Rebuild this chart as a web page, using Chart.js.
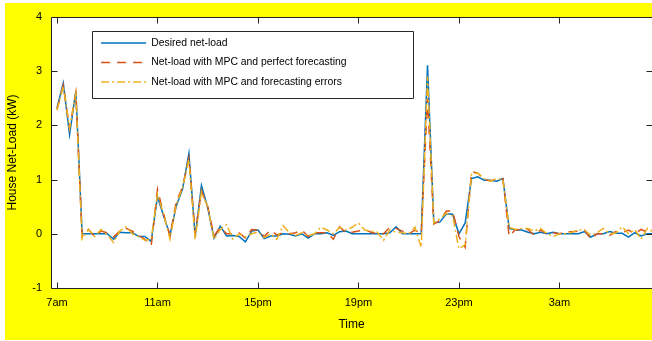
<!DOCTYPE html>
<html><head><meta charset="utf-8">
<script src="https://cdn.jsdelivr.net/npm/chart.js@4/dist/chart.umd.min.js"></script>
<style>html,body{margin:0;padding:0;background:#fff}#wrap{width:652px;height:341px;position:relative}</style>
</head><body><div id="wrap"><canvas id="c" width="652" height="341"></canvas></div>
<script>
// ---- data (15-minute samples starting at 7am) ----
const startHour = 7;
const stepHours = 0.25;
const xTickHours = [7, 11, 15, 19, 23, 27];
const xTickLabels = ['7am', '11am', '15pm', '19pm', '23pm', '3am'];
const yTickValues = [-1, 0, 1, 2, 3, 4];
const seriesNames = ['Desired net-load', 'Net-load with MPC and perfect forecasting', 'Net-load with MPC and forecasting errors'];

const desired = [
  2.32, 2.78, 1.83, 2.63, 0.00, 0.00, 0.00, 0.00, 0.00, -0.10,
  0.03, 0.02, 0.02, -0.05, -0.05, -0.14, 0.69, 0.32, -0.02, 0.52,
  0.83, 1.48, -0.05, 0.89, 0.48, -0.08, 0.14, -0.04, -0.03, -0.05,
  -0.15, 0.05, 0.07, -0.09, -0.04, -0.04, 0.00, -0.01, -0.04, 0.00,
  -0.08, 0.00, 0.00, 0.02, -0.03, 0.04, 0.05, 0.00, 0.00, 0.00,
  0.00, 0.00, 0.00, 0.02, 0.13, 0.00, 0.00, 0.00, 0.00, 3.11,
  0.20, 0.22, 0.37, 0.36, 0.00, 0.20, 1.02, 1.05, 0.99, 0.99,
  0.97, 1.02, 0.10, 0.07, 0.07, 0.03, 0.00, 0.03, 0.00, 0.03,
  0.00, 0.00, 0.00, 0.00, 0.04, -0.06, 0.00, 0.00, 0.04, 0.01,
  0.01, -0.06, 0.02, -0.04, 0.00, 0.00
];
const mpcPerfect = [
  2.30, 2.74, 1.95, 2.60, -0.05, 0.08, -0.05, 0.05, 0.02, -0.06,
  0.05, 0.10, 0.05, -0.03, -0.10, -0.22, 0.82, 0.35, -0.04, 0.60,
  0.86, 1.40, 0.00, 0.80, 0.50, -0.04, 0.12, 0.00, 0.00, 0.02,
  -0.08, 0.08, 0.07, -0.05, 0.07, -0.02, 0.02, 0.00, 0.02, 0.07,
  -0.05, 0.02, 0.02, 0.02, -0.10, 0.13, 0.02, 0.03, 0.05, 0.08,
  0.03, 0.00, 0.00, 0.12, 0.10, 0.05, 0.00, 0.07, 0.00, 2.50,
  0.18, 0.25, 0.42, 0.42, -0.05, -0.25, 1.15, 1.12, 1.00, 0.98,
  1.00, 1.02, -0.05, 0.08, 0.07, 0.08, -0.03, 0.07, 0.00, 0.02,
  0.00, 0.04, 0.04, 0.05, 0.07, -0.10, 0.00, 0.00, -0.03, 0.04,
  0.02, 0.07, 0.00, 0.08, 0.03, 0.00
];
const mpcErrors = [
  2.28, 2.72, 1.95, 2.58, -0.10, 0.08, -0.05, 0.08, -0.02, -0.16,
  0.05, 0.13, 0.00, -0.05, -0.12, -0.10, 0.73, 0.35, -0.10, 0.55,
  0.85, 1.37, -0.10, 0.77, 0.50, -0.10, 0.08, 0.17, -0.10, 0.00,
  -0.06, 0.00, 0.03, -0.07, 0.00, -0.10, 0.15, 0.02, -0.03, 0.02,
  -0.04, 0.00, 0.12, 0.07, 0.00, 0.12, 0.07, 0.12, 0.20, 0.07,
  0.05, 0.03, -0.12, 0.07, 0.03, 0.02, 0.00, 0.12, -0.25, 2.90,
  0.20, 0.28, 0.38, 0.33, -0.28, -0.20, 1.10, 1.12, 1.02, 0.97,
  1.02, 1.00, 0.12, 0.08, 0.10, 0.10, 0.05, 0.10, 0.00, -0.05,
  0.00, 0.00, 0.03, 0.07, 0.07, -0.03, 0.02, 0.10, 0.00, 0.02,
  0.13, 0.00, 0.08, -0.10, 0.10, 0.03
];

// ---- build points from sample index -> hour of day ----
const toPoints = arr => arr.map((v, i) => ({ x: startHour + i * stepHours, y: v }));

const FONT = '"Liberation Sans", Arial, Helvetica, sans-serif';
const AX = '#262626';

const framePlugin = {
  id: 'frame',
  beforeDraw(chart) {
    const { ctx, chartArea: a } = chart;
    ctx.save();
    ctx.fillStyle = '#ffffff';
    ctx.fillRect(0, 0, chart.width, chart.height);
    ctx.fillStyle = '#ffff00';
    ctx.fillRect(5, 3, chart.width - 5, chart.height - 4);
    ctx.fillStyle = '#ffffff';
    ctx.fillRect(a.left, a.top, a.right - a.left, a.bottom - a.top);
    ctx.restore();
  },
  afterLayout(chart) {
    const lg = chart.legend;
    if (lg) { lg.left = 92; lg.top = 28.6; }
  },
  afterDraw(chart) {
    const { ctx, chartArea: a, scales } = chart;
    ctx.save();
    ctx.strokeStyle = AX;
    ctx.lineWidth = 1;
    ctx.beginPath();
    const L = Math.round(a.left) + 0.5, R = Math.round(a.right) + 0.5;
    const T = Math.round(a.top) + 0.5, B = Math.round(a.bottom) + 0.5;
    ctx.rect(L, T, R - L, B - T);
    const tl = 6;
    xTickHours.forEach(h => {
      const px = Math.round(scales.x.getPixelForValue(h)) + 0.5;
      ctx.moveTo(px, B); ctx.lineTo(px, B - tl);
      ctx.moveTo(px, T); ctx.lineTo(px, T + tl);
    });
    yTickValues.forEach(v => {
      const py = Math.round(scales.y.getPixelForValue(v)) + 0.5;
      ctx.moveTo(L, py); ctx.lineTo(L + tl, py);
      ctx.moveTo(R, py); ctx.lineTo(R - tl, py);
    });
    ctx.stroke();
    // legend frame
    ctx.beginPath();
    ctx.rect(92.5, 31.5, 321, 67);
    ctx.stroke();
    ctx.restore();
  }
};

const colors = ['#0072BD', '#D95319', '#EDB120'];
const dashes = [[], [9, 7], [8, 3, 2, 3]];
const values = [desired, mpcPerfect, mpcErrors];

new Chart(document.getElementById('c'), {
  type: 'line',
  data: {
    datasets: values.map((arr, k) => ({
      label: seriesNames[k],
      data: toPoints(arr),
      borderColor: colors[k],
      backgroundColor: colors[k],
      borderWidth: 1.5,
      borderDash: dashes[k],
      pointRadius: 0,
      tension: 0,
      fill: false,
      order: 3 - k
    }))
  },
  options: {
    responsive: false,
    animation: false,
    devicePixelRatio: 1,
    layout: { padding: { left: 0, top: 17, right: 0, bottom: 0 } },
    plugins: {
      tooltip: { enabled: false },
      legend: {
        position: 'chartArea',
        align: 'start',
        labels: {
          usePointStyle: true,
          pointStyle: 'line',
          pointStyleWidth: 45,
          padding: 9.1,
          color: '#000',
          font: { family: FONT, size: 10.4 },
          sort: (a, b) => a.datasetIndex - b.datasetIndex,
          generateLabels: chart => {
            const items = Chart.defaults.plugins.legend.labels.generateLabels(chart);
            items.forEach(it => {
              const ds = chart.data.datasets[it.datasetIndex];
              it.lineDash = ds.borderDash;
              it.lineWidth = ds.borderWidth;
              it.strokeStyle = ds.borderColor;
              it.fillStyle = ds.borderColor;
            });
            return items;
          }
        }
      }
    },
    scales: {
      x: {
        type: 'linear',
        min: 6.761,
        max: 30.686,
        grid: { display: false, drawTicks: false },
        border: { display: false },
        afterBuildTicks: s => { s.ticks = xTickHours.map(v => ({ value: v })); },
        afterFit: s => { s.height = 53; },
        ticks: {
          autoSkip: false, maxRotation: 0, padding: 8,
          color: '#000',
          font: { family: FONT, size: 11 },
          callback: v => xTickLabels[xTickHours.indexOf(v)]
        },
        title: { display: true, text: 'Time', color: '#000', font: { family: FONT, size: 12 }, padding: { top: 0, bottom: 9 } }
      },
      y: {
        min: -1,
        max: 4,
        grid: { display: false, drawTicks: false },
        border: { display: false },
        afterBuildTicks: s => { s.ticks = yTickValues.map(v => ({ value: v })); },
        afterFit: s => { s.width = 51; },
        ticks: {
          padding: 9,
          color: '#000',
          font: { family: FONT, size: 11 },
          callback: v => String(v)
        },
        title: { display: true, text: 'House Net-Load (kW)', color: '#000', font: { family: FONT, size: 12 }, padding: { top: 5, bottom: 0 } }
      }
    }
  },
  plugins: [framePlugin]
});
</script>
</body></html>
